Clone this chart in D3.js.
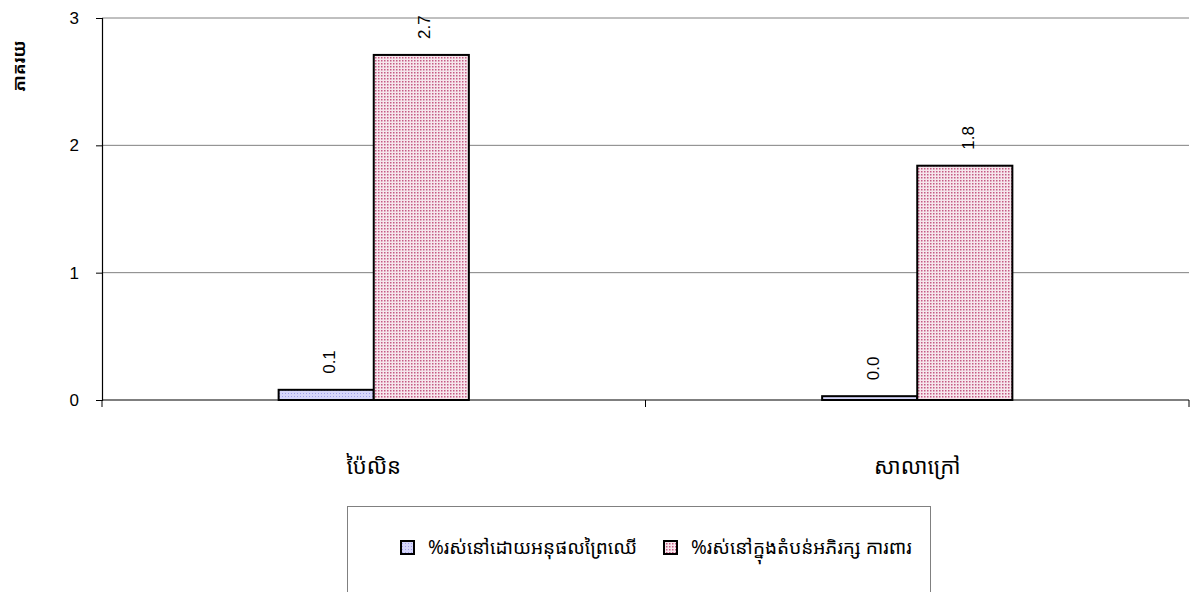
<!DOCTYPE html>
<html><head><meta charset="utf-8">
<script src="https://cdn.jsdelivr.net/npm/d3@7"></script>
<style>body{margin:0;background:#fff}svg{display:block}</style>
</head><body>
<script>
const categories = ["ប៉ៃលិន", "សាលាក្រៅ"];
const seriesNames = ["%រស់នៅដោយអនុផលព្រៃឈើ", "%រស់នៅក្នុងតំបន់អភិរក្ស ការពារ"];
const seriesA = [0.08, 0.03];
const seriesB = [2.71, 1.84];
const yTicks = [0, 1, 2, 3];
const yTitle = "ភាគរយ";

const W = 1190, H = 592;
const m = {left: 102, right: 1189, top: 18, bottom: 400};
const svg = d3.select("body").append("svg").attr("width", W).attr("height", H);
const defs = svg.append("defs");
const pa = defs.append("pattern").attr("id","pa").attr("width",3).attr("height",3).attr("patternUnits","userSpaceOnUse");
pa.append("rect").attr("width",3).attr("height",3).attr("fill","#d6d6fa");
pa.append("rect").attr("width",1).attr("height",1).attr("fill","#9f9fe8");
const pb = defs.append("pattern").attr("id","pb").attr("width",3).attr("height",3).attr("patternUnits","userSpaceOnUse");
pb.append("rect").attr("width",3).attr("height",3).attr("fill","#f6e6ec");
pb.append("rect").attr("width",1.5).attr("height",1.5).attr("fill","#c45a84");

const x = d3.scaleBand().domain(categories).range([m.left, m.right]).paddingInner(0).paddingOuter(0);
const y = d3.scaleLinear().domain([0, 3]).range([m.bottom, m.top]);
const barW = x.bandwidth() * 0.175;

// gridlines
svg.append("g").selectAll("line").data(yTicks.filter(d => d > 0)).join("line")
  .attr("x1", m.left).attr("x2", m.right).attr("y1", d => y(d)).attr("y2", d => y(d))
  .attr("stroke", "#808080").attr("stroke-width", 1);

// y axis
const ya = svg.append("g").attr("transform", `translate(${m.left},0)`)
  .call(d3.axisLeft(y).tickValues(yTicks).tickFormat(d3.format("d")).tickSize(6).tickPadding(17));
ya.select(".domain").attr("stroke", "#000").attr("stroke-width", 1.2);
ya.selectAll(".tick line").attr("stroke", "#000");
ya.selectAll("text").attr("font-family", "Liberation Sans, Arial, sans-serif").attr("font-size", 17).attr("fill", "#000");

// bars
const data = categories.map((c, i) => ({c, a: seriesA[i], b: seriesB[i]}));
const g = svg.append("g");
data.forEach(d => {
  const cx = x(d.c) + x.bandwidth() / 2;
  g.append("rect").attr("x", cx - barW).attr("y", y(d.a)).attr("width", barW).attr("height", y(0) - y(d.a))
    .attr("fill", "url(#pa)").attr("stroke", "#000").attr("stroke-width", 2);
  g.append("rect").attr("x", cx).attr("y", y(d.b)).attr("width", barW).attr("height", y(0) - y(d.b))
    .attr("fill", "url(#pb)").attr("stroke", "#000").attr("stroke-width", 2);
  [[cx - barW / 2, d.a], [cx + barW / 2, d.b]].forEach(([lx, v]) => {
    g.append("text").attr("transform", `translate(${lx + 9},${y(v) - 16}) rotate(-90)`)
      .attr("font-family", "Liberation Sans, Arial, sans-serif").attr("font-size", 17).attr("fill", "#000")
      .text(d3.format(".1f")(v));
  });
});

// x axis
const xa = svg.append("g").attr("transform", `translate(0,${m.bottom})`);
xa.append("line").attr("x1", m.left).attr("x2", m.right).attr("stroke", "#000").attr("stroke-width", 1.2);
const bounds = [m.left].concat(categories.map(c => x(c) + x.bandwidth()));
xa.selectAll("line.t").data(bounds).join("line").attr("class","t")
  .attr("x1", d => d).attr("x2", d => d).attr("y1", 0).attr("y2", 7).attr("stroke", "#000");
xa.selectAll("text").data(categories).join("text")
  .attr("x", d => x(d) + x.bandwidth() / 2).attr("y", 74)
  .attr("text-anchor", "middle").attr("font-size", 22).attr("fill", "#000")
  .attr("font-family", "Noto Sans Khmer, Khmer OS, DejaVu Sans, sans-serif").text(d => d);

// y title
svg.append("text").attr("transform", "translate(25,66) rotate(-90)").attr("text-anchor", "middle")
  .attr("font-weight", "bold").attr("font-size", 17).attr("font-family", "Noto Sans Khmer, DejaVu Sans, sans-serif")
  .text(yTitle);

// legend
svg.append("rect").attr("x", 347.5).attr("y", 506.5).attr("width", 583).attr("height", 100)
  .attr("fill", "none").attr("stroke", "#808080").attr("stroke-width", 1);
const lx = [401, 664];
seriesNames.forEach((n, i) => {
  svg.append("rect").attr("x", lx[i]).attr("y", 541).attr("width", 13).attr("height", 13)
    .attr("fill", i === 0 ? "url(#pa)" : "url(#pb)").attr("stroke", "#000").attr("stroke-width", 2);
  svg.append("text").attr("x", lx[i] + 27).attr("y", 554).attr("font-size", 19).attr("fill", "#000")
    .attr("font-family", "Noto Sans Khmer, DejaVu Sans, sans-serif").text(n);
});
</script>
</body></html>
